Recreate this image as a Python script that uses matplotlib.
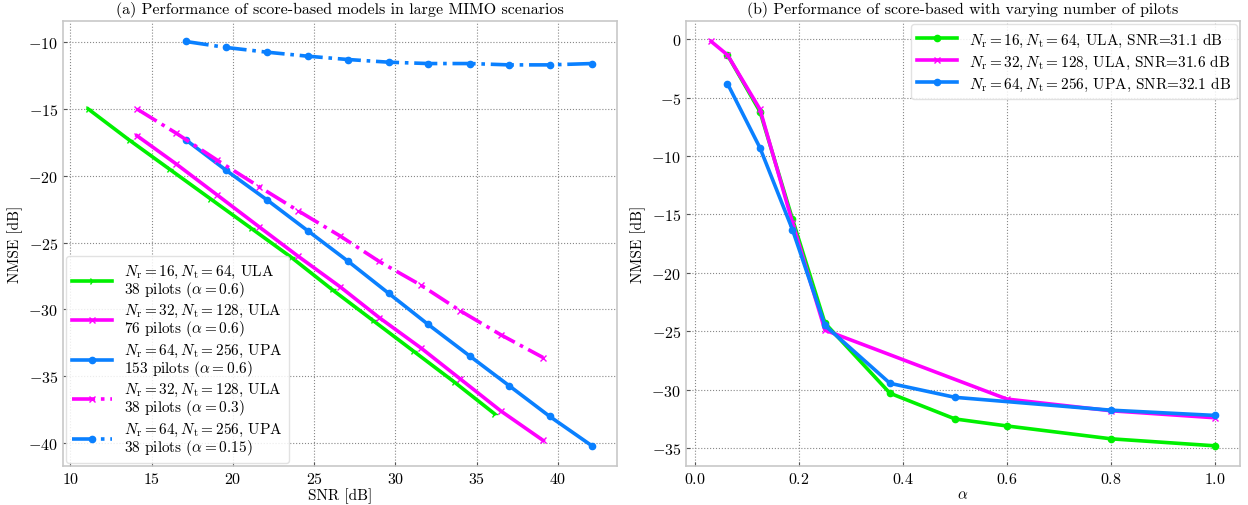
"""Score-based channel estimation: NMSE vs SNR and vs pilot ratio"""

import matplotlib
matplotlib.use("Agg")
import matplotlib.pyplot as plt

plt.rcParams['font.family'] = 'serif'
plt.rcParams['font.serif'] = ['cmr10', 'DejaVu Serif']
plt.rcParams['mathtext.fontset'] = 'cm'
plt.rcParams['axes.formatter.use_mathtext'] = True
plt.rcParams['font.size'] = 11

GREEN = '#00f000'
MAGENTA = '#ff00ff'
BLUE = '#0a80ff'

# (a) NMSE vs SNR
snr_16 = [11.1, 13.6, 16.1, 18.6, 21.1, 23.6, 26.1, 28.6, 31.1, 33.6, 36.1]
nmse_16 = [-15.0, -17.3, -19.5, -21.7, -23.9, -26.1, -28.5, -30.8, -33.1, -35.4, -37.8]

snr_32 = [14.1, 16.5, 19.0, 21.6, 24.0, 26.6, 29.0, 31.6, 34.0, 36.5, 39.1]
nmse_32 = [-17.0, -19.1, -21.4, -23.8, -26.0, -28.3, -30.6, -32.9, -35.2, -37.6, -39.8]
nmse_32_low = [-15.0, -16.8, -18.8, -20.8, -22.6, -24.5, -26.4, -28.2, -30.1, -31.9, -33.6]

snr_64 = [17.1, 19.6, 22.1, 24.6, 27.1, 29.6, 32.0, 34.6, 37.0, 39.5, 42.1]
nmse_64 = [-17.3, -19.6, -21.8, -24.1, -26.4, -28.8, -31.1, -33.5, -35.7, -38.0, -40.2]
nmse_64_low = [-9.95, -10.4, -10.75, -11.05, -11.3, -11.5, -11.6, -11.6, -11.7, -11.7, -11.6]

labels_a = [
    r'$N_\mathrm{r}=16, N_\mathrm{t}=64$, ULA' + '\n' + r'38 pilots ($\alpha=0.6$)',
    r'$N_\mathrm{r}=32, N_\mathrm{t}=128$, ULA' + '\n' + r'76 pilots ($\alpha=0.6$)',
    r'$N_\mathrm{r}=64, N_\mathrm{t}=256$, UPA' + '\n' + r'153 pilots ($\alpha=0.6$)',
    r'$N_\mathrm{r}=32, N_\mathrm{t}=128$, ULA' + '\n' + r'38 pilots ($\alpha=0.3$)',
    r'$N_\mathrm{r}=64, N_\mathrm{t}=256$, UPA' + '\n' + r'38 pilots ($\alpha=0.15$)',
]

# (b) NMSE vs alpha
alpha_16 = [0.0625, 0.125, 0.1875, 0.25, 0.375, 0.5, 0.6, 0.8, 1.0]
nmse_b16 = [-1.35, -6.2, -15.4, -24.3, -30.3, -32.5, -33.1, -34.2, -34.8]

alpha_32 = [0.03125, 0.0625, 0.125, 0.1875, 0.25, 0.6, 0.8, 1.0]
nmse_b32 = [-0.2, -1.35, -6.0, -15.7, -24.9, -30.8, -31.8, -32.4]

alpha_64 = [0.0625, 0.125, 0.1875, 0.25, 0.375, 0.5, 0.8, 1.0]
nmse_b64 = [-3.8, -9.3, -16.3, -24.5, -29.45, -30.65, -31.75, -32.2]

labels_b = [
    r'$N_\mathrm{r}=16, N_\mathrm{t}=64$, ULA, SNR=31.1 dB',
    r'$N_\mathrm{r}=32, N_\mathrm{t}=128$, ULA, SNR=31.6 dB',
    r'$N_\mathrm{r}=64, N_\mathrm{t}=256$, UPA, SNR=32.1 dB',
]


def style_axes(ax):
    ax.grid(True, linestyle=':', color='#888888', linewidth=0.8)
    ax.set_axisbelow(True)
    for sp in ax.spines.values():
        sp.set_color('#c8c8c8')
        sp.set_linewidth(1.2)
    ax.tick_params(direction='in', length=3, color='#555555', labelsize=11.5)


def style_legend(leg):
    leg.get_frame().set_edgecolor('#dddddd')
    for t in leg.get_texts():
        t.set_linespacing(0.95)


fig = plt.figure(figsize=(12.48, 5.06), dpi=100)
ax1 = fig.add_axes([0.0505, 0.077, 0.444, 0.879])
ax2 = fig.add_axes([0.5497, 0.077, 0.444, 0.879])

lw = 2.6
ax1.plot(snr_16, nmse_16, '-', color=GREEN, lw=lw, marker='4', ms=6, label=labels_a[0])
ax1.plot(snr_32, nmse_32, '-', color=MAGENTA, lw=lw, marker='x', ms=4, label=labels_a[1])
ax1.plot(snr_64, nmse_64, '-', color=BLUE, lw=lw, marker='o', ms=4.5, label=labels_a[2])
ax1.plot(snr_32, nmse_32_low, '-.', color=MAGENTA, lw=lw, marker='x', ms=4, label=labels_a[3])
ax1.plot(snr_64, nmse_64_low, '-.', color=BLUE, lw=lw, marker='o', ms=4.5, label=labels_a[4])
ax1.set_xlabel('SNR [dB]', labelpad=1)
ax1.set_ylabel('NMSE [dB]')
ax1.set_title('(a) Performance of score-based models in large MIMO scenarios', fontsize=11.5)
ax1.set_yticks([-10, -15, -20, -25, -30, -35, -40])
style_axes(ax1)
leg = ax1.legend(loc='lower left', fontsize=11, frameon=True, framealpha=0.85,
                 handlelength=2.6, labelspacing=0.2, borderaxespad=0.2)
style_legend(leg)

ax2.plot(alpha_16, nmse_b16, '-', color=GREEN, lw=lw, marker='o', ms=4.5, label=labels_b[0])
ax2.plot(alpha_32, nmse_b32, '-', color=MAGENTA, lw=lw, marker='x', ms=4, label=labels_b[1])
ax2.plot(alpha_64, nmse_b64, '-', color=BLUE, lw=lw, marker='o', ms=4.5, label=labels_b[2])
ax2.set_xlabel(r'$\alpha$', labelpad=1)
ax2.set_ylabel('NMSE [dB]')
ax2.set_title('(b) Performance of score-based with varying number of pilots', fontsize=11.5)
ax2.set_yticks([0, -5, -10, -15, -20, -25, -30, -35])
style_axes(ax2)
leg2 = ax2.legend(loc='upper right', fontsize=11, frameon=True, framealpha=0.85,
                  handlelength=2.6, labelspacing=0.25, borderaxespad=0.2)
style_legend(leg2)

fig.savefig('out.png', dpi=100)
